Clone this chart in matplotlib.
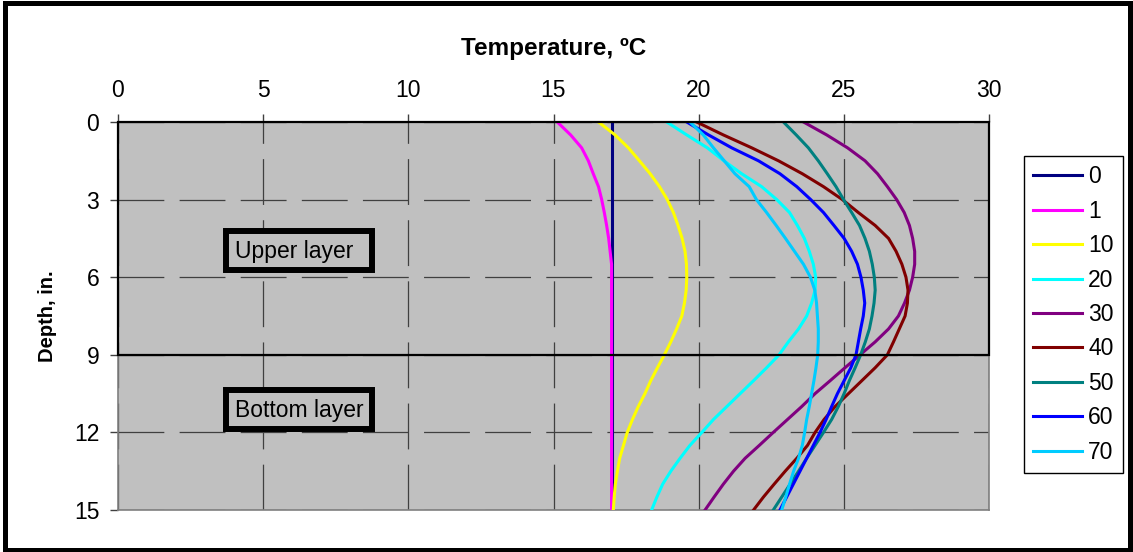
"""Temperature profiles by depth (upper / bottom layer)."""

import matplotlib
matplotlib.use("Agg")
import matplotlib.pyplot as plt
from matplotlib.patches import Rectangle

plt.rcParams.update({"font.family": "Liberation Sans", "font.size": 16.5,
                     "lines.scale_dashes": False})

# depth (in.) at which each profile was read
depth = [0, 0.5, 1, 1.5, 2, 2.5, 3, 3.5, 4, 4.5, 5, 5.5, 6, 6.5, 7, 7.5,
         8, 8.5, 9, 9.5, 10, 10.5, 11, 11.5, 12, 12.5, 13, 13.5, 14, 14.5, 15]

# temperature (deg C) per series, keyed by legend label
t_0 = [17.0] * 31
t_1 = [15.13, 15.59, 15.97, 16.20, 16.37, 16.55, 16.66, 16.75, 16.83, 16.90, 16.95,
       17.0, 17.0, 17.0, 17.0, 17.0, 17.0, 17.0, 17.0, 17.0, 17.0, 17.0, 17.0, 17.0,
       17.0, 17.0, 17.0, 17.0, 17.0, 17.0, 17.0]
t_10 = [16.55, 17.12, 17.58, 17.96, 18.33, 18.65, 18.92, 19.13, 19.29, 19.43, 19.53,
        19.58, 19.59, 19.57, 19.51, 19.42, 19.24, 19.04, 18.82, 18.58, 18.35, 18.15,
        17.92, 17.72, 17.54, 17.41, 17.28, 17.20, 17.13, 17.09, 17.06]
t_20 = [18.90, 19.59, 20.30, 20.87, 21.48, 22.17, 22.69, 23.13, 23.40, 23.64, 23.81,
        23.95, 24.03, 24.01, 23.89, 23.72, 23.44, 23.09, 22.77, 22.34, 21.89, 21.43,
        20.97, 20.51, 20.11, 19.70, 19.36, 19.04, 18.76, 18.56, 18.38]
t_30 = [23.61, 24.41, 25.13, 25.73, 26.16, 26.50, 26.82, 27.08, 27.26, 27.37, 27.44,
        27.44, 27.37, 27.26, 27.09, 26.88, 26.54, 26.08, 25.56, 25.04, 24.53, 24.01,
        23.55, 23.06, 22.57, 22.09, 21.60, 21.20, 20.85, 20.53, 20.22]
t_40 = [19.93, 20.85, 21.83, 22.75, 23.57, 24.30, 24.95, 25.50, 26.08, 26.54, 26.80,
        27.00, 27.14, 27.21, 27.19, 27.11, 26.91, 26.71, 26.50, 26.08, 25.62, 25.16,
        24.70, 24.32, 24.01, 23.75, 23.38, 22.98, 22.60, 22.23, 21.89]
t_50 = [22.92, 23.36, 23.78, 24.12, 24.43, 24.73, 24.99, 25.27, 25.54, 25.73, 25.88,
        25.98, 26.05, 26.08, 26.04, 25.97, 25.88, 25.74, 25.58, 25.39, 25.19, 25.01,
        24.81, 24.58, 24.30, 24.01, 23.72, 23.44, 23.15, 22.86, 22.57]
t_60 = [19.59, 20.34, 21.14, 22.06, 22.80, 23.38, 23.86, 24.30, 24.66, 25.01, 25.27,
        25.47, 25.59, 25.67, 25.72, 25.67, 25.58, 25.50, 25.42, 25.24, 25.01, 24.78,
        24.58, 24.39, 24.18, 23.95, 23.72, 23.49, 23.26, 23.03, 22.80]
t_70 = [19.70, 20.16, 20.51, 20.88, 21.25, 21.74, 21.99, 22.34, 22.67, 22.99, 23.30,
        23.61, 23.85, 24.00, 24.06, 24.09, 24.12, 24.12, 24.10, 24.04, 23.97, 23.89,
        23.81, 23.72, 23.65, 23.57, 23.44, 23.27, 23.13, 23.00, 22.86]

labels = ["0", "1", "10", "20", "30", "40", "50", "60", "70"]
series = [t_0, t_1, t_10, t_20, t_30, t_40, t_50, t_60, t_70]
colors = ["#000080", "#FF00FF", "#FFFF00", "#00FFFF", "#800080",
          "#800000", "#008080", "#0000FF", "#00CCFF"]

x_ticks = [0, 5, 10, 15, 20, 25, 30]
y_ticks = [0, 3, 6, 9, 12, 15]

fig = plt.figure(figsize=(11.33, 5.52), dpi=100)
ax = fig.add_axes([118 / 1133, 1 - 510 / 552, 871 / 1133, 388 / 552])
ax.set_facecolor("#C0C0C0")

for temps, lab, col in zip(series, labels, colors):
    ax.plot(temps, depth, color=col, lw=2.2, label=lab, zorder=3)

ax.set_xlim(0, 30)
ax.set_ylim(15, 0)
ax.set_xticks(x_ticks)
ax.set_yticks(y_ticks)
ax.xaxis.tick_top()
ax.xaxis.set_label_position("top")
ax.tick_params(axis="x", direction="out", length=5.5, width=1, color="#404040", pad=9)
ax.tick_params(axis="y", direction="out", length=6, width=1, color="#404040", pad=7.5)
ax.grid(True, color="#404040", lw=0.9, linestyle=(0, (33, 11)))
ax.set_axisbelow(True)
for sp in ax.spines.values():
    sp.set_color("#808080")
    sp.set_linewidth(1.2)

ax.set_xlabel("Temperature, ºC", fontsize=17.5, fontweight="bold", labelpad=17)
ax.set_ylabel("Depth, in.", fontsize=14.5, fontweight="bold", labelpad=12)

# upper-layer outline and the two layer tags
ax.add_patch(Rectangle((0, 0), 30, 9, fill=False, edgecolor="black", lw=1.6,
                       zorder=4, clip_on=False))
for y0, y1, txt in [(4.21, 5.72, "Upper layer"), (10.35, 11.86, "Bottom layer")]:
    ax.add_patch(Rectangle((3.71, y0), 5.03, y1 - y0, facecolor="#C0C0C0",
                           edgecolor="black", lw=4.3, zorder=5))
    ax.text(4.03, (y0 + y1) / 2 + 0.05, txt, ha="left", va="center", zorder=6)

fig.legend(loc="upper left", bbox_to_anchor=(1024 / 1133, 1 - 156 / 552),
           bbox_transform=fig.transFigure, borderaxespad=0, fancybox=False,
           edgecolor="black", framealpha=1, labelspacing=0.5, borderpad=0.4,
           handlelength=2.15, handletextpad=0.25)
fig.legends[0].get_frame().set_linewidth(1)

# outer chart border
fig.patches.append(Rectangle((0.004, 0.0045), 0.9934, 0.990, transform=fig.transFigure,
                             fill=False, edgecolor="black", lw=3.6))

fig.savefig("out.png", dpi=100)
